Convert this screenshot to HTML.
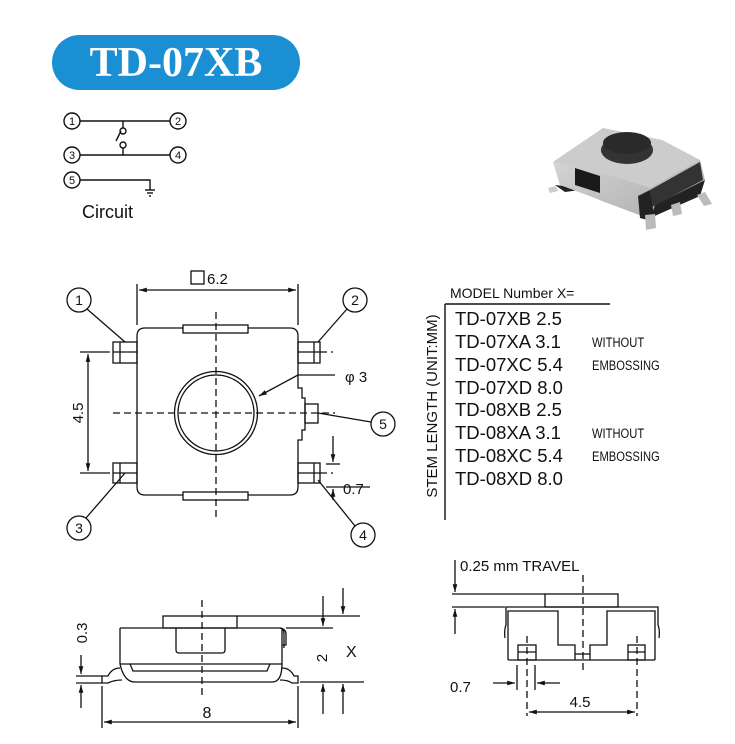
<!DOCTYPE html>
<html><head><meta charset="utf-8"><style>
html,body{margin:0;padding:0;background:#fff;}
svg{display:block;}
text{font-family:"Liberation Sans",sans-serif;fill:#111;}
</style></head><body>
<svg width="735" height="744" viewBox="0 0 735 744" xmlns="http://www.w3.org/2000/svg">
<defs>
<marker id="a" viewBox="0 0 10 10" refX="10" refY="5" markerWidth="8" markerHeight="6" orient="auto-start-reverse"><path d="M0,2 L10,5 L0,8 z" fill="#111"/></marker>
<linearGradient id="g1" x1="0" y1="0" x2="1" y2="1"><stop offset="0" stop-color="#ddd"/><stop offset="1" stop-color="#aaa"/></linearGradient>
</defs>
<!-- title -->
<rect x="52" y="35" width="248" height="55" rx="27.5" fill="#1a8fd3"/>
<text x="176" y="76" text-anchor="middle" style="font-family:'Liberation Serif',serif;font-weight:bold;font-size:42px;fill:#fff">TD-07XB</text>

<!-- circuit -->
<g stroke="#111" stroke-width="1.4" fill="none">
<circle cx="72" cy="121" r="8"/><circle cx="178" cy="121" r="8"/>
<circle cx="72" cy="155" r="8"/><circle cx="178" cy="155" r="8"/>
<circle cx="72" cy="180" r="8"/>
<line x1="80" y1="121" x2="170" y2="121"/><line x1="80" y1="155" x2="170" y2="155"/>
<line x1="123" y1="121" x2="123" y2="128"/><circle cx="123" cy="131" r="3"/>
<circle cx="123" cy="145" r="3"/><line x1="123" y1="148" x2="123" y2="155"/>
<line x1="116" y1="141" x2="121" y2="131"/>
<polyline points="80,180 150,180 150,190"/>
<line x1="145" y1="190" x2="155" y2="190"/><line x1="147" y1="193" x2="153" y2="193"/><line x1="149" y1="196" x2="151" y2="196"/>
</g>
<g font-size="11" text-anchor="middle"><text x="72" y="125">1</text><text x="178" y="125">2</text><text x="72" y="159">3</text><text x="178" y="159">4</text><text x="72" y="184">5</text></g>
<text x="82" y="218" font-size="18">Circuit</text>

<!-- product photo -->
<g>
<polygon points="555,185 565,192 580,190 600,200 640,215 650,218 700,196 705,180 650,205 600,190" fill="#222"/>
<polygon points="553,162 603,128 662,140 700,160 705,180 655,205 650,220 640,215 600,200 560,185" fill="url(#g1)"/>
<polygon points="553,162 603,128 662,140 700,160 650,188 600,172" fill="#ccc"/>
<ellipse cx="627" cy="150" rx="26" ry="14" fill="#333"/>
<ellipse cx="627" cy="143" rx="24" ry="11" fill="#2a2a2a"/>
<polygon points="575,168 600,176 600,193 575,185" fill="#1a1a1a"/>
<polygon points="650,190 700,162 703,180 652,207" fill="#333"/>
<polygon points="650,190 655,222 640,218 638,196" fill="#222"/>
<polygon points="548,188 556,186 558,191 550,193" fill="#ccc"/>
<polygon points="645,215 655,214 656,228 646,230" fill="#bbb"/>
<polygon points="671,205 680,202 682,214 673,216" fill="#bbb"/>
<polygon points="697,195 705,192 712,204 704,206" fill="#bbb"/>
</g>

<!-- top view -->
<g stroke="#111" stroke-width="1.3" fill="none">
<path d="M145,328 H290 Q298,328 298,336 V388 H302 V398 H305 V430 H302 V440 H298 V487 Q298,495 290,495 H145 Q137,495 137,487 V336 Q137,328 145,328 Z" fill="#fff"/>
<rect x="183" y="325" width="65" height="8" fill="#fff"/>
<rect x="183" y="492" width="65" height="8" fill="#fff"/>
<rect x="113" y="342" width="24" height="21"/><line x1="120" y1="342" x2="120" y2="363"/><line x1="113" y1="352" x2="137" y2="352"/>
<rect x="113" y="463" width="24" height="20"/><line x1="120" y1="463" x2="120" y2="483"/><line x1="113" y1="473" x2="137" y2="473"/>
<rect x="298" y="342" width="22" height="21"/><line x1="314" y1="342" x2="314" y2="363"/><line x1="298" y1="352" x2="320" y2="352"/>
<rect x="298" y="463" width="22" height="20"/><line x1="314" y1="463" x2="314" y2="483"/><line x1="298" y1="473" x2="320" y2="473"/>
<rect x="305" y="404" width="13" height="19"/>
<circle cx="216" cy="413" r="41.5"/><circle cx="216" cy="413" r="38"/>
<g stroke-dasharray="7,4"><line x1="216" y1="312" x2="216" y2="518"/><line x1="113" y1="413" x2="335" y2="413"/><line x1="320" y1="352" x2="333" y2="352"/><line x1="320" y1="473" x2="333" y2="473"/></g>
<line x1="137" y1="284" x2="137" y2="325"/><line x1="298" y1="284" x2="298" y2="325"/>
<line x1="139" y1="290" x2="296" y2="290" marker-start="url(#a)" marker-end="url(#a)"/>
<line x1="80" y1="352" x2="110" y2="352"/><line x1="80" y1="473" x2="110" y2="473"/>
<line x1="88" y1="354" x2="88" y2="471" marker-start="url(#a)" marker-end="url(#a)"/>
<rect x="191" y="271" width="13" height="13"/>
<circle cx="79" cy="300" r="12"/><line x1="87" y1="309" x2="125" y2="342"/>
<circle cx="355" cy="300" r="12"/><line x1="347" y1="309" x2="318" y2="342"/>
<circle cx="79" cy="528" r="12"/><line x1="86" y1="518" x2="125" y2="473"/>
<circle cx="363" cy="535" r="12"/><line x1="355" y1="526" x2="318" y2="480"/>
<circle cx="383" cy="424" r="12"/><line x1="371" y1="422" x2="318" y2="413"/>
<line x1="335" y1="375" x2="298" y2="375"/><line x1="298" y1="375" x2="259" y2="396" marker-end="url(#a)"/>
<line x1="326" y1="464" x2="340" y2="464"/><line x1="326" y1="487" x2="370" y2="487"/>
<line x1="333" y1="436" x2="333" y2="462" marker-end="url(#a)"/><line x1="333" y1="500" x2="333" y2="489" marker-end="url(#a)"/>
</g>
<text x="207" y="284" font-size="15">6.2</text>
<text x="345" y="382" font-size="15">φ 3</text>
<text x="343" y="494" font-size="15">0.7</text>
<text transform="translate(83,413) rotate(-90)" text-anchor="middle" font-size="15">4.5</text>
<g font-size="14" text-anchor="middle"><text x="79" y="305">1</text><text x="355" y="305">2</text><text x="79" y="533">3</text><text x="363" y="540">4</text><text x="383" y="429">5</text></g>

<!-- table -->
<text x="450" y="298" font-size="14">MODEL Number X=</text>
<g stroke="#111" stroke-width="1.4"><line x1="445" y1="304" x2="610" y2="304"/><line x1="445" y1="304" x2="445" y2="520"/></g>
<text transform="translate(437,406) rotate(-90)" text-anchor="middle" font-size="15">STEM LENGTH (UNIT:MM)</text>
<g font-size="18.5">
<text x="455" y="325">TD-07XB 2.5</text>
<text x="455" y="348">TD-07XA 3.1</text>
<text x="455" y="371">TD-07XC 5.4</text>
<text x="455" y="394">TD-07XD 8.0</text>
<text x="455" y="416">TD-08XB 2.5</text>
<text x="455" y="439">TD-08XA 3.1</text>
<text x="455" y="462">TD-08XC 5.4</text>
<text x="455" y="485">TD-08XD 8.0</text>
</g>
<g font-size="14" transform="scale(0.8,1)">
<text x="740" y="347">WITHOUT</text><text x="740" y="370">EMBOSSING</text>
<text x="740" y="438">WITHOUT</text><text x="740" y="461">EMBOSSING</text>
</g>

<!-- side view -->
<g stroke="#111" stroke-width="1.3" fill="none">
<rect x="163" y="616" width="74" height="12"/>
<path d="M120,628 H280 Q284,628 284,634 V648 M120,628 V664 Q124,682 135,682 H272 Q282,682 282,664 V628"/>
<path d="M280,628 Q286,629 286,634 V645 H282"/>
<path d="M176,628 V650 Q176,653 179,653 H222 Q225,653 225,650 V628"/>
<line x1="120" y1="664" x2="282" y2="664"/>
<path d="M130,664 L133,671 H267 L270,664"/>
<path d="M120,668 Q112,668 108,676 H102 V683 H108 Q114,680 122,680"/>
<path d="M282,668 Q290,668 294,676 H298 V683 H292 Q288,680 280,680"/>
<line x1="202" y1="600" x2="202" y2="695" stroke-dasharray="7,4"/>
<line x1="237" y1="616" x2="360" y2="616"/><line x1="286" y1="628" x2="333" y2="628"/>
<line x1="300" y1="682" x2="364" y2="682"/>
<line x1="323" y1="596" x2="323" y2="626" marker-end="url(#a)"/><line x1="323" y1="714" x2="323" y2="684" marker-end="url(#a)"/>
<line x1="343" y1="588" x2="343" y2="614" marker-end="url(#a)"/><line x1="343" y1="714" x2="343" y2="684" marker-end="url(#a)"/>
<line x1="76" y1="676" x2="102" y2="676"/><line x1="76" y1="683" x2="102" y2="683"/>
<line x1="81" y1="655" x2="81" y2="674" marker-end="url(#a)"/><line x1="81" y1="708" x2="81" y2="685" marker-end="url(#a)"/>
<line x1="102" y1="686" x2="102" y2="728"/><line x1="298" y1="686" x2="298" y2="728"/>
<line x1="104" y1="722" x2="296" y2="722" marker-start="url(#a)" marker-end="url(#a)"/>
</g>
<text x="207" y="718" font-size="16" text-anchor="middle">8</text>
<text transform="translate(327,658) rotate(-90)" text-anchor="middle" font-size="15">2</text>
<text x="346" y="657" font-size="16">X</text>
<text transform="translate(87,633) rotate(-90)" text-anchor="middle" font-size="15">0.3</text>

<!-- right side view -->
<g stroke="#111" stroke-width="1.3" fill="none">
<rect x="545" y="594" width="73" height="13"/>
<line x1="452" y1="594" x2="545" y2="594"/><line x1="452" y1="607" x2="505" y2="607"/>
<line x1="455" y1="560" x2="455" y2="592" marker-end="url(#a)"/><line x1="455" y1="634" x2="455" y2="609" marker-end="url(#a)"/>
<path d="M505,638 Q504,630 506,625 V607 H658 V625 Q660,630 659,638"/>
<path d="M508,660 V611 H558 V645 H575 V660 M655,660 V611 H607 V645 H590 V660"/>
<line x1="508" y1="660" x2="655" y2="660"/><line x1="575" y1="654" x2="590" y2="654"/>
<rect x="518" y="645" width="18" height="15"/><line x1="518" y1="652" x2="536" y2="652"/>
<rect x="628" y="645" width="17" height="15"/><line x1="628" y1="652" x2="645" y2="652"/>
<line x1="583" y1="575" x2="583" y2="670" stroke-dasharray="7,4"/>
<line x1="527" y1="636" x2="527" y2="716" stroke-dasharray="7,4"/><line x1="637" y1="636" x2="637" y2="716" stroke-dasharray="7,4"/>
<line x1="517" y1="665" x2="517" y2="690"/><line x1="535" y1="665" x2="535" y2="690"/>
<line x1="493" y1="683" x2="515" y2="683" marker-end="url(#a)"/><line x1="560" y1="683" x2="537" y2="683" marker-end="url(#a)"/>
<line x1="529" y1="712" x2="635" y2="712" marker-start="url(#a)" marker-end="url(#a)"/>
</g>
<text x="460" y="571" font-size="15">0.25 mm TRAVEL</text>
<text x="450" y="692" font-size="15">0.7</text>
<text x="580" y="707" font-size="15" text-anchor="middle">4.5</text>
</svg>
</body></html>
